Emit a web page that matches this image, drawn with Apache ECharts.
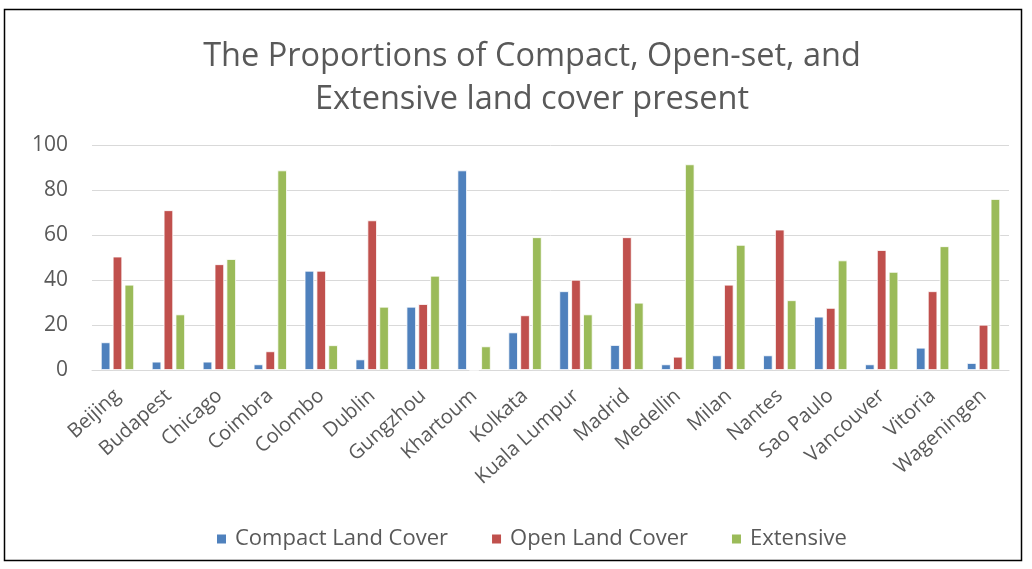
<!DOCTYPE html>
<html>
<head>
<meta charset="utf-8">
<script src="https://cdn.jsdelivr.net/npm/echarts@6/dist/echarts.min.js"></script>
<style>
html,body{margin:0;padding:0;background:#fff;}
#c{width:1032px;height:569px;}
</style>
</head>
<body>
<div id="c"></div>
<script>
const categories = ["Beijing","Budapest","Chicago","Coimbra","Colombo","Dublin","Gungzhou","Khartoum","Kolkata","Kuala Lumpur","Madrid","Medellin","Milan","Nantes","Sao Paulo","Vancouver","Vitoria","Wageningen"];
const compact = [12.3,3.7,3.7,2.5,44.1,4.7,28.1,88.7,16.7,35,11.1,2.5,6.5,6.5,23.7,2.5,9.9,3.1];
const openLand = [50.4,71,47,8.3,44.1,66.5,29.3,0,24.3,40.1,59,5.9,37.9,62.4,27.6,53.3,35,20.1];
const extensive = [37.9,24.7,49.3,88.7,11,28.1,41.9,10.5,59,24.7,29.9,91.4,55.6,31,48.7,43.6,55,76];
const seriesNames = ["Compact Land Cover","Open Land Cover","Extensive"];
const titleText = "The Proportions of Compact, Open-set, and\nExtensive land cover present";

const font = "'Open Sans', 'Noto Sans', sans-serif";
const txt = "#595959";
const chart = echarts.init(document.getElementById('c'));
const mk = (name, data, color) => ({
  name, type: 'bar', data, barWidth: 9.5, barGap: '25%',
  itemStyle: {color, borderColor: '#fff', borderWidth: 0.8}
});
chart.setOption({
  animation: false,
  title: {text: titleText, left: 527, textAlign: 'center', top: 30,
    textStyle: {fontFamily: font, fontSize: 32.5, fontWeight: 'normal', color: txt, lineHeight: 43}},
  graphic: [{type: 'rect', shape: {x: 4.5, y: 9.5, width: 1017, height: 551},
    style: {fill: 'none', stroke: '#000', lineWidth: 1.5}, silent: true}],
  legend: {top: 523, left: 210, itemWidth: 11, itemHeight: 11, itemGap: 42,
    icon: 'rect',
    textStyle: {fontFamily: font, fontSize: 22, color: txt, padding: [0, 0, 0, 3]}},
  grid: {left: 92, right: 23, top: 145, bottom: 199},
  xAxis: {type: 'category', data: categories,
    axisLine: {lineStyle: {color: '#D9D9D9'}}, axisTick: {show: false},
    axisLabel: {interval: 0, rotate: 42, fontFamily: font, fontSize: 20, color: txt, margin: 23}},
  yAxis: {type: 'value', min: 0, max: 100, interval: 20,
    axisLine: {show: false}, axisTick: {show: false},
    splitLine: {lineStyle: {color: '#D9D9D9'}},
    axisLabel: {fontFamily: font, fontSize: 21, color: txt, margin: 24}},
  series: [mk(seriesNames[0], compact, '#4F81BD'), mk(seriesNames[1], openLand, '#C0504D'), mk(seriesNames[2], extensive, '#9BBB59')]
});
</script>
</body>
</html>
